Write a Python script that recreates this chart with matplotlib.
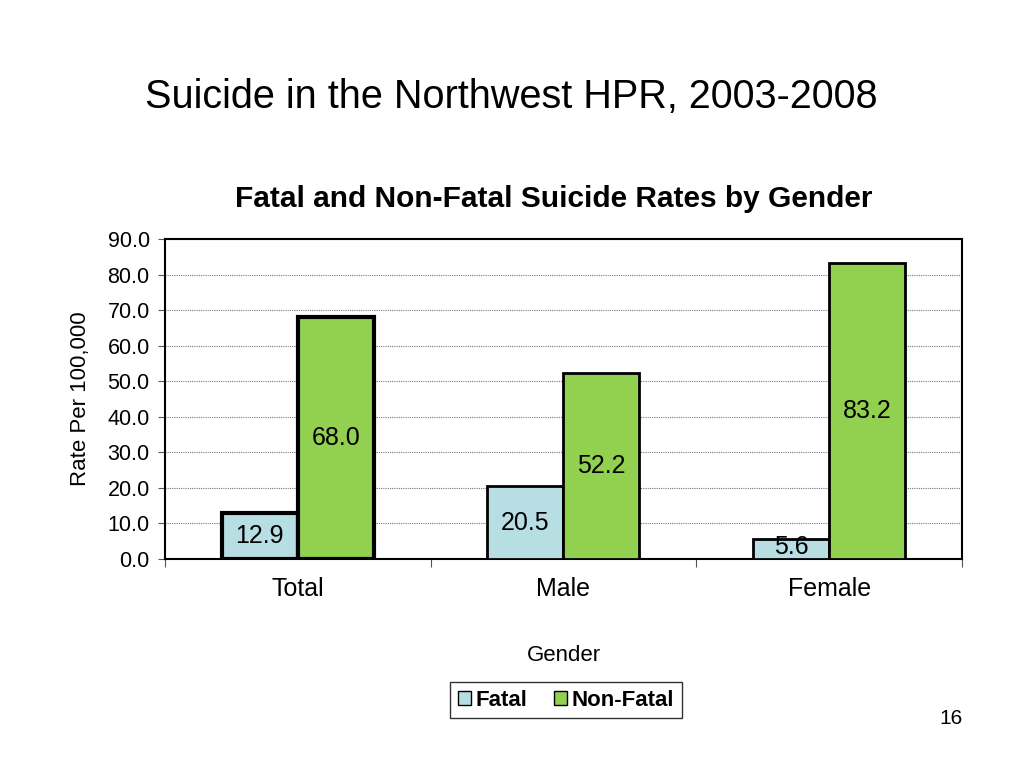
import matplotlib.pyplot as plt
import numpy as np
from matplotlib.patches import Patch

plt.rcParams['font.family'] = ['Liberation Sans', 'DejaVu Sans']

categories = ["Total", "Male", "Female"]
fatal = [12.9, 20.5, 5.6]
non_fatal = [68.0, 52.2, 83.2]

FATAL_COLOR = "#b7dee3"
NONFATAL_COLOR = "#92d050"

fig = plt.figure(figsize=(10.24, 7.68), dpi=100)
ax = fig.add_axes([0.1611, 0.2721, 0.7783, 0.4167])

x = np.arange(len(categories))
width = 0.286
edge_w = [3.0, 2.0, 2.0]

b1 = ax.bar(x - width / 2, fatal, width, color=FATAL_COLOR,
            edgecolor="black", linewidth=edge_w, zorder=3)
b2 = ax.bar(x + width / 2, non_fatal, width, color=NONFATAL_COLOR,
            edgecolor="black", linewidth=edge_w, zorder=3)

# value labels centred inside each bar
for bars, vals in ((b1, fatal), (b2, non_fatal)):
    for rect, v in zip(bars, vals):
        ax.text(rect.get_x() + rect.get_width() / 2, max(v / 2, 3.4), f"{v:.1f}",
                ha="center", va="center", fontsize=18, zorder=4)

ax.set_xlim(-0.5, 2.5)
ax.set_ylim(0, 90)
ax.set_yticks(np.arange(0, 91, 10))
ax.set_yticklabels([f"{t:.1f}" for t in np.arange(0, 91, 10)], fontsize=15.5)
ax.yaxis.grid(True, linestyle=(0, (1, 1)), color="#777777", linewidth=0.8, zorder=0)

ax.set_xticks([-0.5, 0.5, 1.5, 2.5])
ax.set_xticklabels([])
ax.set_xticks(x, minor=True)
ax.set_xticklabels(categories, minor=True, fontsize=18)
ax.tick_params(axis="x", which="minor", length=0, pad=13)
ax.tick_params(axis="x", which="major", direction="out", length=6, color="#555555")
ax.tick_params(axis="y", direction="out", length=5, color="#555555", pad=6)

for s in ax.spines.values():
    s.set_linewidth(1.5)

ax.set_ylabel("Rate Per 100,000", fontsize=16, labelpad=12)
ax.set_xlabel("Gender", fontsize=16)
ax.xaxis.set_label_coords(0.5, -0.27)

fig.text(0.4995, 0.874, "Suicide in the Northwest HPR, 2003-2008",
         ha="center", va="center", fontsize=28.5)
fig.text(0.541, 0.741, "Fatal and Non-Fatal Suicide Rates by Gender",
         ha="center", va="center", fontsize=21.5, fontweight="bold")

handles = [Patch(facecolor=FATAL_COLOR, edgecolor="black", label="Fatal"),
           Patch(facecolor=NONFATAL_COLOR, edgecolor="black", label="Non-Fatal")]
leg = fig.legend(handles=handles, loc="center", bbox_to_anchor=(0.5527, 0.0885),
                 ncol=2, frameon=True, fancybox=False, edgecolor="black",
                 prop={"weight": "bold", "size": 16}, handlelength=0.6,
                 handleheight=0.6, handletextpad=0.2, columnspacing=1.2,
                 borderpad=0.35, borderaxespad=0.0)
leg._legend_box.sep = 0
leg.get_frame().set_linewidth(1.0)
leg.set_bbox_to_anchor((0.5527, 0.0885))

fig.text(0.9287, 0.065, "16", ha="center", va="center", fontsize=15)

fig.savefig("out.png", dpi=100)
